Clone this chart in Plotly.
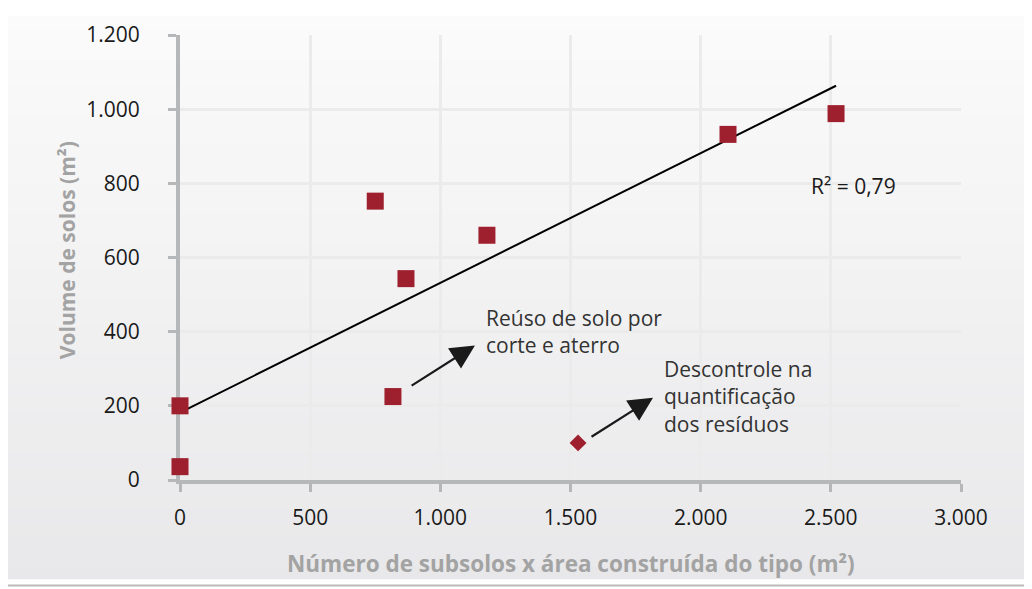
import numpy as np
import plotly.graph_objects as go

# ---- data ----
x_obras = [0, 0, 750, 868, 818, 1179, 2105, 2520]
y_solos = [200, 36, 752, 543, 225, 660, 932, 988]
x_outlier = [1529]
y_outlier = [100]

x_ticks = [0, 500, 1000, 1500, 2000, 2500, 3000]
x_ticklabels = ["0", "500", "1.000", "1.500", "2.000", "2.500", "3.000"]
y_ticks = [0, 200, 400, 600, 800, 1000, 1200]
y_ticklabels = ["0", "200", "400", "600", "800", "1.000", "1.200"]

x_title = "Número de subsolos x área construída do tipo (m²)"
y_title = "Volume de solos (m²)"
note_reuso = "Reúso de solo por<br>corte e aterro"
note_descontrole = "Descontrole na<br>quantificação<br>dos resíduos"

# ---- linear trend (fit on the square series) ----
xa = np.array(x_obras, dtype=float)
ya = np.array(y_solos, dtype=float)
slope, intercept = np.polyfit(xa, ya, 1)
pred = slope * xa + intercept
r2 = 1 - np.sum((ya - pred) ** 2) / np.sum((ya - ya.mean()) ** 2)
trend_x = [0, xa.max()]
trend_y = [intercept, slope * xa.max() + intercept]
r2_text = "R² = " + f"{r2:.2f}".replace(".", ",")

# ---- layout geometry (page pixels; page body has an 8px margin) ----
PAGE_W, PAGE_H = 1032, 589
OFF = 8
W, H = PAGE_W - OFF, PAGE_H - OFF
L, R, T, B = 180, 961, 27, 480          # plot area on the page
RED = "#9e1f2d"
FONT = "Open Sans"


def px_x(p):
    return (p - L) / (R - L)


def px_y(p):
    return (B - p) / (B - T)


fig = go.Figure()

fig.add_trace(go.Scatter(
    x=trend_x, y=trend_y, mode="lines",
    line=dict(color="#000000", width=2), hoverinfo="skip", showlegend=False,
))
fig.add_trace(go.Scatter(
    x=x_obras, y=y_solos, mode="markers",
    marker=dict(symbol="square", size=17, color=RED),
    cliponaxis=False, showlegend=False,
))
fig.add_trace(go.Scatter(
    x=x_outlier, y=y_outlier, mode="markers",
    marker=dict(symbol="diamond", size=13, color=RED),
    cliponaxis=False, showlegend=False,
))

# background gradient panel built from bands
shapes = []
top_px, bot_px = 8, 581
n = 40
c0 = np.array([251, 251, 251])
c1 = np.array([232, 232, 234])
for i in range(n):
    y0p = top_px + (bot_px - top_px) * i / n
    y1p = top_px + (bot_px - top_px) * (i + 1) / n + 0.6
    c = c0 + (c1 - c0) * (i + 0.5) / n
    shapes.append(dict(
        type="rect", xref="paper", yref="paper", layer="below",
        x0=px_x(OFF), x1=px_x(PAGE_W + 2), y0=px_y(min(y1p, bot_px)), y1=px_y(y0p),
        fillcolor="rgb(%d,%d,%d)" % tuple(c.round()), line=dict(width=0),
    ))
shapes.append(dict(
    type="line", xref="paper", yref="paper", layer="below",
    x0=px_x(OFF), x1=px_x(PAGE_W + 2), y0=px_y(587.5), y1=px_y(587.5),
    line=dict(color="#b9b9b9", width=2),
))

annotations = [
    dict(text=note_reuso, x=1166, y=401, xref="x", yref="y",
         xanchor="left", yanchor="middle", align="left", showarrow=False,
         font=dict(family=FONT, size=21, color="#333333")),
    dict(text=note_descontrole, x=1851, y=224, xref="x", yref="y",
         xanchor="left", yanchor="middle", align="left", showarrow=False,
         font=dict(family=FONT, size=21, color="#333333")),
    dict(text=r2_text, x=2416, y=792, xref="x", yref="y",
         xanchor="left", yanchor="middle", align="left", showarrow=False,
         font=dict(family=FONT, size=21, color="#1a1a1a")),
    # arrows
    dict(text="", x=1133, y=363, ax=884, ay=252, xref="x", yref="y",
         axref="x", ayref="y", showarrow=True, arrowhead=2, arrowsize=2.2,
         arrowwidth=2.2, arrowcolor="#1a1a1a"),
    dict(text="", x=1817, y=222, ax=1575, ay=114, xref="x", yref="y",
         axref="x", ayref="y", showarrow=True, arrowhead=2, arrowsize=2.2,
         arrowwidth=2.2, arrowcolor="#1a1a1a"),
    # axis titles
    dict(text="<b>" + x_title + "</b>", x=0.5, y=px_y(565), xref="paper",
         yref="paper", xanchor="center", yanchor="middle", showarrow=False,
         font=dict(family=FONT, size=22.5, color="#a3a3a3")),
    dict(text="<b>" + y_title + "</b>", x=px_x(67), y=px_y(246), xref="paper",
         yref="paper", xanchor="center", yanchor="middle", showarrow=False,
         textangle=-90, font=dict(family=FONT, size=21, color="#a3a3a3")),
]

axis_common = dict(
    showline=True, linecolor="#b5b7b9", linewidth=4,
    ticks="outside", ticklen=8, tickwidth=3, tickcolor="#b5b7b9",
    showgrid=True, gridcolor="#ebebeb", gridwidth=3, layer="below traces",
    zeroline=False, tickfont=dict(family=FONT, size=21, color="#1a1a1a"),
)

fig.update_layout(
    width=W, height=H,
    margin=dict(l=L - OFF, r=PAGE_W - R, t=T - OFF, b=PAGE_H - B),
    paper_bgcolor="#ffffff", plot_bgcolor="#ffffff",
    shapes=shapes, annotations=annotations, showlegend=False,
    xaxis=dict(range=[0, 3000], tickvals=x_ticks, ticktext=x_ticklabels,
               ticklabelstandoff=8, **axis_common),
    yaxis=dict(range=[0, 1200], tickvals=y_ticks, ticktext=y_ticklabels,
               ticklabelstandoff=24, **axis_common),
)

fig.write_html("out.html")
